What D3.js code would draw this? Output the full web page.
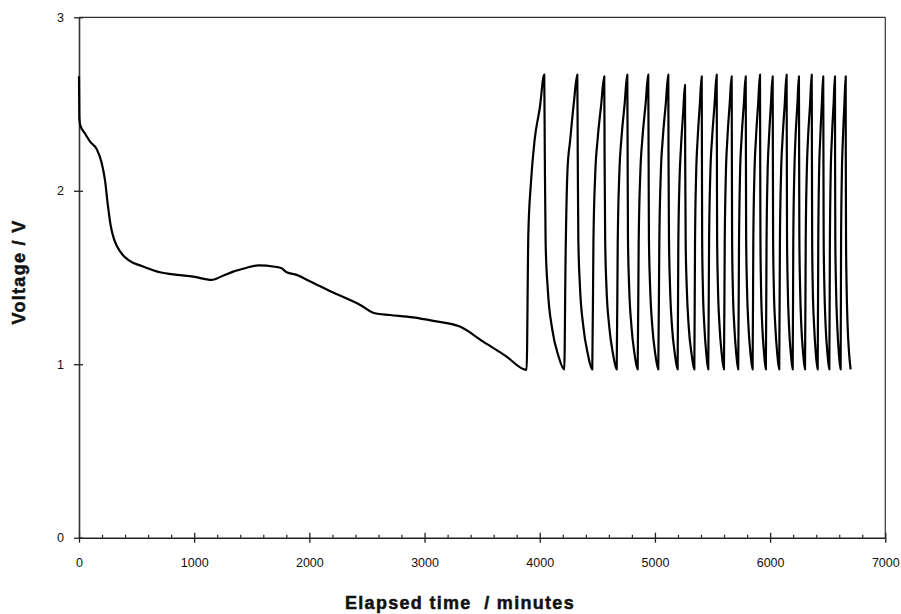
<!DOCTYPE html>
<html>
<head>
<meta charset="utf-8">
<script src="https://cdn.jsdelivr.net/npm/d3@7"></script>
<style>
  body { margin: 0; background: #fff; }
  svg { display: block; }
  .tick text { font-family: "Liberation Sans", Arial, sans-serif; font-size: 12.5px; fill: #111; }
  .axis-title { font-family: "Liberation Sans", Arial, sans-serif; font-weight: bold; font-size: 18px; fill: #111; stroke: #111; stroke-width: 0.5px; white-space: pre; }
</style>
</head>
<body>
<div id="chart"></div>
<script>
// Tick labels
const xTicks = [0, 1000, 2000, 3000, 4000, 5000, 6000, 7000];
const yTicks = [0, 1, 2, 3];

// First long discharge (minutes, volts)
const firstTime = [0, 3, 10, 52, 100, 154, 197, 226, 250, 275, 300, 330, 380, 430,
  550, 703, 850, 992, 1151, 1250, 1339, 1450, 1556, 1700, 1759, 1803, 1889,
  2000, 2207, 2441, 2569, 2700, 2900, 3075, 3307, 3509, 3700];
const firstVolt = [2.66, 2.42, 2.38, 2.33, 2.28, 2.24, 2.16, 2.06, 1.92, 1.80, 1.73, 1.68, 1.63, 1.60,
  1.565, 1.53, 1.515, 1.505, 1.486, 1.51, 1.534, 1.555, 1.57, 1.562, 1.553, 1.53, 1.515,
  1.48, 1.413, 1.342, 1.294, 1.284, 1.27, 1.25, 1.217, 1.13, 1.05];

// Charge / discharge cycling (minutes, volts)
const cycleTime = [
  3886, 3901, 3924, 3955, 4001, 4039, 4044, 4051, 4070, 4109, 4161,
  4213, 4224, 4241, 4264, 4298, 4326, 4330, 4335, 4349, 4378, 4417,
  4456, 4466, 4482, 4503, 4534, 4560, 4563, 4568, 4579, 4603, 4636,
  4668, 4677, 4691, 4709, 4737, 4760, 4763, 4766, 4776, 4796, 4823,
  4850, 4859, 4873, 4891, 4919, 4942, 4945, 4948, 4958, 4977, 5003,
  5029, 5038, 5051, 5068, 5094, 5116, 5118, 5122, 5131, 5148, 5173,
  5197, 5203, 5213, 5226, 5245, 5261, 5263, 5267, 5276, 5293, 5318,
  5342, 5348, 5358, 5371, 5390, 5406, 5408, 5410, 5416, 5429, 5446,
  5463, 5470, 5481, 5496, 5518, 5536, 5538, 5540, 5547, 5561, 5580,
  5599, 5606, 5616, 5629, 5649, 5666, 5668, 5670, 5676, 5689, 5706,
  5723, 5730, 5739, 5752, 5772, 5788, 5790, 5792, 5799, 5812, 5830,
  5848, 5854, 5864, 5877, 5896, 5912, 5914, 5916, 5921, 5932, 5948,
  5963, 5969, 5978, 5990, 6007, 6022, 6024, 6026, 6032, 6045, 6062,
  6079, 6085, 6095, 6108, 6127, 6143, 6145, 6147, 6153, 6164, 6180,
  6196, 6201, 6210, 6220, 6237, 6250, 6252, 6254, 6260, 6271, 6287,
  6303, 6309, 6318, 6329, 6347, 6361, 6363, 6365, 6370, 6382, 6397,
  6413, 6418, 6425, 6435, 6449, 6461, 6463, 6465, 6471, 6482, 6498,
  6514, 6519, 6526, 6536, 6551, 6563, 6564, 6566, 6572, 6583, 6597,
  6612, 6616, 6623, 6632, 6645, 6656, 6657, 6659, 6664, 6673, 6686,
  6699
];
const cycleVolt = [
  0.967, 1.75, 2.05, 2.29, 2.48, 2.67, 2.20, 1.70, 1.43, 1.20, 1.05,
  0.97, 1.60, 2.12, 2.29, 2.52, 2.67, 2.20, 1.72, 1.45, 1.22, 1.06,
  0.97, 1.70, 2.10, 2.30, 2.50, 2.66, 2.20, 1.72, 1.45, 1.22, 1.06,
  0.97, 1.70, 2.10, 2.30, 2.50, 2.67, 2.20, 1.72, 1.45, 1.22, 1.06,
  0.97, 1.70, 2.10, 2.30, 2.50, 2.67, 2.20, 1.72, 1.45, 1.22, 1.06,
  0.97, 1.70, 2.10, 2.30, 2.50, 2.67, 2.20, 1.72, 1.45, 1.22, 1.06,
  0.97, 1.68, 2.05, 2.25, 2.45, 2.61, 2.15, 1.70, 1.45, 1.22, 1.06,
  0.97, 1.70, 2.10, 2.30, 2.50, 2.66, 2.20, 1.72, 1.45, 1.22, 1.06,
  0.97, 1.70, 2.10, 2.30, 2.50, 2.67, 2.20, 1.72, 1.45, 1.22, 1.06,
  0.97, 1.70, 2.10, 2.30, 2.50, 2.66, 2.20, 1.72, 1.45, 1.22, 1.06,
  0.97, 1.70, 2.10, 2.30, 2.50, 2.66, 2.20, 1.72, 1.45, 1.22, 1.06,
  0.97, 1.70, 2.10, 2.30, 2.50, 2.67, 2.20, 1.72, 1.45, 1.22, 1.06,
  0.97, 1.70, 2.10, 2.30, 2.50, 2.66, 2.20, 1.72, 1.45, 1.22, 1.06,
  0.97, 1.70, 2.10, 2.30, 2.50, 2.67, 2.20, 1.72, 1.45, 1.22, 1.06,
  0.97, 1.70, 2.10, 2.30, 2.50, 2.66, 2.20, 1.72, 1.45, 1.22, 1.06,
  0.97, 1.70, 2.10, 2.30, 2.50, 2.67, 2.20, 1.72, 1.45, 1.22, 1.06,
  0.97, 1.70, 2.10, 2.30, 2.50, 2.66, 2.20, 1.72, 1.45, 1.22, 1.06,
  0.97, 1.70, 2.10, 2.30, 2.50, 2.66, 2.20, 1.72, 1.45, 1.22, 1.06,
  0.97, 1.70, 2.10, 2.30, 2.50, 2.66, 2.20, 1.72, 1.45, 1.22, 1.06,
  0.97
];

const width = 901;
const height = 614;

const svg = d3.select("#chart")
  .append("svg")
  .attr("width", width)
  .attr("height", height);

const x = d3.scaleLinear().domain([0, 7000]).range([79, 885.3]);
const y = d3.scaleLinear().domain([0, 3]).range([537.7, 17.3]);

// Frame (top and right edges)
svg.append("line")
  .attr("x1", x(0)).attr("x2", x(7000))
  .attr("y1", y(3)).attr("y2", y(3))
  .attr("stroke", "#333").attr("stroke-width", 1.2);
svg.append("line")
  .attr("x1", x(7000)).attr("x2", x(7000))
  .attr("y1", y(3)).attr("y2", y(0))
  .attr("stroke", "#333").attr("stroke-width", 1.2);

// Minor x ticks every 200 min
const minorTicks = d3.range(0, 7001, 200).filter((d) => d % 1000 !== 0);
svg.append("g")
  .attr("transform", `translate(0,${y(0)})`)
  .call(d3.axisBottom(x).tickValues(minorTicks).tickSize(-3).tickFormat(""))
  .call((g) => g.select(".domain").remove())
  .call((g) => g.selectAll(".tick line").attr("stroke", "#222").attr("stroke-width", 1.2));

// X axis
const xAxis = svg.append("g")
  .attr("transform", `translate(0,${y(0)})`)
  .call(d3.axisBottom(x).tickValues(xTicks).tickFormat(d3.format("d"))
    .tickSize(5).tickPadding(15).tickSizeOuter(0));
xAxis.select(".domain").attr("stroke", "#222").attr("stroke-width", 1.6);
xAxis.selectAll(".tick line").attr("y1", -5).attr("stroke", "#222").attr("stroke-width", 1.3);

// Y axis
const yAxis = svg.append("g")
  .attr("transform", `translate(${x(0)},0)`)
  .call(d3.axisLeft(y).tickValues(yTicks).tickFormat(d3.format("d"))
    .tickSize(5).tickPadding(10).tickSizeOuter(0));
yAxis.select(".domain").attr("stroke", "#333").attr("stroke-width", 1.6);
yAxis.selectAll(".tick line").attr("x1", 4).attr("stroke", "#222").attr("stroke-width", 1.3);

// Voltage curve
const points = firstTime.map((t, i) => [t, firstVolt[i]])
  .concat(cycleTime.map((t, i) => [t, cycleVolt[i]]));

const line = d3.line()
  .x((d) => x(d[0]))
  .y((d) => y(d[1]))
  .curve(d3.curveMonotoneX);

svg.append("path")
  .datum(points)
  .attr("fill", "none")
  .attr("stroke", "#000")
  .attr("stroke-width", 2.2)
  .attr("stroke-linejoin", "round")
  .attr("d", line);

// Axis titles
svg.append("text")
  .attr("class", "axis-title")
  .attr("x", 460)
  .attr("y", 609)
  .attr("text-anchor", "middle")
  .style("letter-spacing", "1.3px")
  .text("Elapsed time  / minutes");

svg.append("text")
  .attr("class", "axis-title")
  .attr("transform", "translate(25,272) rotate(-90)")
  .attr("text-anchor", "middle")
  .style("letter-spacing", "1.3px")
  .text("Voltage / V");
</script>
</body>
</html>
